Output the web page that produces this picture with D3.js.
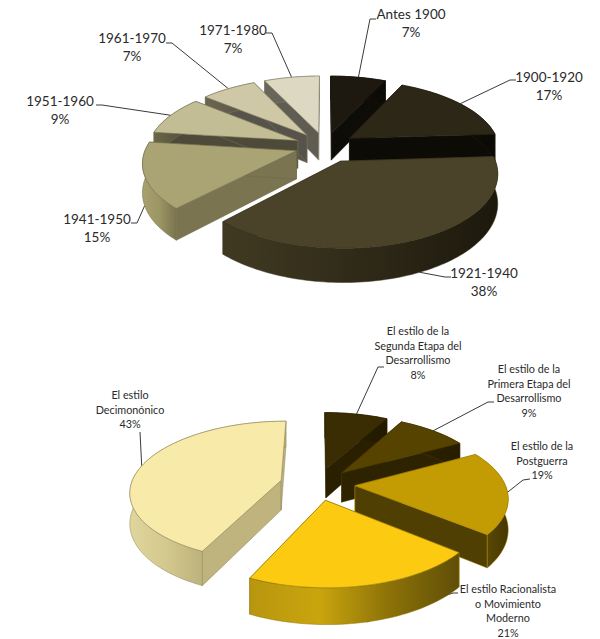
<!DOCTYPE html>
<html>
<head>
<meta charset="utf-8">
<script src="https://cdn.jsdelivr.net/npm/d3@7"></script>
<style>
  html, body { margin: 0; padding: 0; background: #fff; }
  svg { display: block; }
  text { font-family: Lato, "Open Sans", sans-serif; fill: #2a2a2a; text-anchor: middle; }
</style>
</head>
<body>
<svg id="chart" width="600" height="639"></svg>
<script>
// Building age shares
const periods = ["Antes 1900", "1900-1920", "1921-1940", "1941-1950", "1951-1960", "1961-1970", "1971-1980"];
const periodValues = [7, 17, 38, 15, 9, 7, 7];

// Architectural style shares
const styles = [
  ["El estilo de la", "Segunda Etapa  del", "Desarrollismo"],
  ["El estilo de la", "Primera Etapa  del", "Desarrollismo"],
  ["El estilo de la", "Postguerra"],
  ["El estilo Racionalista", "o Movimiento", "Moderno"],
  ["El estilo", "Decimonónico"]
];
const styleValues = [8, 9, 19, 21, 43];

// Face colours: top, radial wall, outer wall stops left to right, thin edge line
const periodTop = ["#1d1910", "#2d2717", "#4a4229", "#aaa374", "#c3bd95", "#cec8a6", "#dcd8c2"];
const periodSide = ["#0e0c07", "#0d0b05", "#2b2616", "#7a7450", "#4d4a39", "#56534a", "#5f5c52"];
const periodRim = [
  ["#15120b", "#0c0a05"], ["#1c1810", "#0b0904"], ["#413a22", "#2f2a18", "#1c180c"],
  ["#a9a26f", "#9c9564", "#7a7450"], ["#6a6648", "#4d4a39"], ["#6a6650", "#56534a"], ["#6a675a", "#5f5c52"]
];
const periodEdge = ["#14110a", "#241f12", "#3a3420", "#6d6848", "#7c7758", "#7f7b62", "#85816c"];
const styleTop = ["#3a2c03", "#574300", "#c29c02", "#fdca12", "#f8eaa8"];
const styleSide = ["#2a2000", "#2e2300", "#4f3f02", "#8f7408", "#bfb47d"];
const styleRim = [
  ["#2a2000", "#221a00"], ["#2e2300", "#261c00"], ["#5a4806", "#463700"],
  ["#b8960f", "#c9a50d", "#8c7208", "#5f4e07"], ["#e0d69d", "#d3c88d", "#bdb27c"]
];
const styleEdge = ["#2f2402", "#463600", "#a88700", "#8f7408", "#8d8458"];

const svg = d3.select("#chart");
const defs = svg.append("defs");
let gradientId = 0;

// Pie on a tilted plane: u runs right, v runs toward the viewer, z drops the bottom face
function projector(p) {
  return (u, v, z) => {
    const s = 1 / (1 - p.persp * v);
    return [p.cx + u * p.radius * s, p.cy + (v * p.radius * p.tilt + z) * s];
  };
}

const pathOf = d3.line().curve(d3.curveLinear);

function drawPie(values, p, tops, sides, rims, edges) {
  const project = projector(p);
  const arcs = d3.pie().sort(null).value(d => d).startAngle(0).endAngle(2 * Math.PI)(values);
  const layer = svg.append("g");

  const slices = arcs.map((a, i) => {
    const mid = (a.startAngle + a.endAngle) / 2;
    const off = [Math.sin(mid) * p.explode[i], -Math.cos(mid) * p.explode[i]];
    const n = Math.max(8, Math.ceil((a.endAngle - a.startAngle) * 40));
    const angles = d3.range(n + 1).map(k => a.startAngle + (a.endAngle - a.startAngle) * k / n);
    const rimAt = (t, z) => project(Math.sin(t) + off[0], -Math.cos(t) + off[1], z);
    return { i, mid, off, angles, rimAt, apex: z => project(off[0], off[1], z), a };
  });

  slices.slice().sort((x, y) => -Math.cos(x.mid) - -Math.cos(y.mid)).forEach(s => {
    const g = layer.append("g");
    const h = p.depth;
    const first = s.angles[0], last = s.angles[s.angles.length - 1];

    // radial walls
    [first, last].forEach(t => {
      g.append("path")
        .attr("d", pathOf([s.apex(0), s.rimAt(t, 0), s.rimAt(t, h), s.apex(h)]) + "Z")
        .attr("fill", sides[s.i])
        .attr("stroke", edges[s.i]).attr("stroke-width", 0.5);
    });

    // outer wall, shaded across the part facing the viewer
    const upper = s.angles.map(t => s.rimAt(t, 0));
    const lower = s.angles.map(t => s.rimAt(t, h)).reverse();
    const facing = s.angles.filter(t => -Math.cos(t) > -0.05).map(t => s.rimAt(t, 0)[0]);
    const xs = facing.length > 1 ? facing : upper.map(d => d[0]);
    const id = "rim" + (gradientId++);
    const grad = defs.append("linearGradient").attr("id", id)
      .attr("gradientUnits", "userSpaceOnUse")
      .attr("x1", d3.min(xs)).attr("x2", d3.max(xs)).attr("y1", 0).attr("y2", 0);
    rims[s.i].forEach((c, k, all) => {
      grad.append("stop").attr("offset", k / (all.length - 1)).attr("stop-color", c);
    });
    g.append("path")
      .attr("d", pathOf(upper.concat(lower)) + "Z")
      .attr("fill", `url(#${id})`)
      .attr("stroke", edges[s.i]).attr("stroke-width", 0.5);

    // top face
    g.append("path")
      .attr("d", pathOf([s.apex(0)].concat(upper)) + "Z")
      .attr("fill", tops[s.i])
      .attr("stroke", edges[s.i]).attr("stroke-width", 0.6);
  });
  return { slices, layer };
}

function drawCallouts(pie, p, callouts, labelsOf) {
  // leader lines run beneath the slices, labels above everything
  const lines = svg.insert("g", () => pie.layer.node());
  const labels = svg.append("g");
  callouts.forEach((c, i) => {
    const s = pie.slices[i];
    const start = s.rimAt(s.mid, c.onBase ? p.depth : 0);
    lines.append("path")
      .attr("d", pathOf([start].concat(c.elbow)))
      .attr("fill", "none").attr("stroke", "#3a3a3a").attr("stroke-width", 1);
    labelsOf(i).forEach((line, k) => {
      labels.append("text")
        .attr("x", c.x).attr("y", c.y + k * p.lineStep)
        .attr("font-size", p.fontSize)
        .text(line);
    });
  });
}

// Construction period pie
const periodPie = {
  cx: 325, cy: 146, radius: 150, tilt: 0.46, persp: 0.15, depth: 28,
  explode: [0.2, 0.2, 0.235, 0.2, 0.2, 0.2, 0.2],
  fontSize: 13.5, lineStep: 18
};
const periodCallouts = [
  { x: 411, y: 19, elbow: [[370, 19], [376, 19]] },
  { x: 549, y: 82, elbow: [[510, 80], [516, 80]] },
  { x: 484, y: 278, elbow: [[445, 277], [451, 277]], onBase: true },
  { x: 97, y: 224, elbow: [[137, 223], [131, 223]], onBase: true },
  { x: 60, y: 106, elbow: [[102, 105], [96, 105]] },
  { x: 132, y: 43, elbow: [[172, 43], [166, 43]] },
  { x: 233, y: 35, elbow: [[272, 33], [266, 33]] }
];
drawCallouts(drawPie(periodValues, periodPie, periodTop, periodSide, periodRim, periodEdge),
  periodPie, periodCallouts, i => [periods[i], periodValues[i] + "%"]);

// Architectural style pie
const stylePie = {
  cx: 317.5, cy: 484, radius: 150, tilt: 0.46, persp: 0.15, depth: 30,
  explode: [0.233, 0.233, 0.25, 0.233, 0.25],
  fontSize: 10.8, lineStep: 14.6
};
const styleCallouts = [
  { x: 418, y: 335, elbow: [[378, 367], [384, 367]] },
  { x: 529, y: 373, elbow: [[488, 402], [494, 402]] },
  { x: 542, y: 450, elbow: [[523, 480], [530, 479]] },
  { x: 508, y: 593, elbow: [[453, 593], [458, 593]], onBase: true },
  { x: 130, y: 399, elbow: [[140, 432]] }
];
drawCallouts(drawPie(styleValues, stylePie, styleTop, styleSide, styleRim, styleEdge),
  stylePie, styleCallouts, i => styles[i].concat(styleValues[i] + "%"));
</script>
</body>
</html>
